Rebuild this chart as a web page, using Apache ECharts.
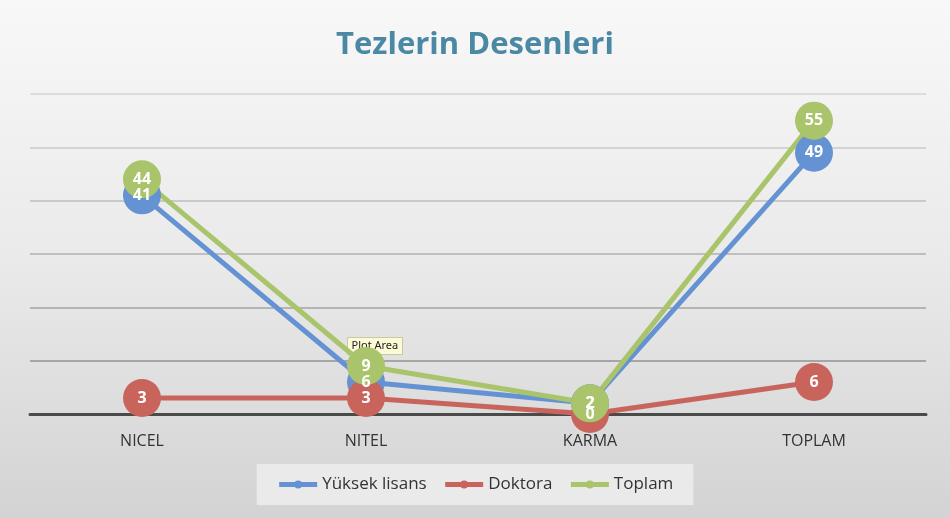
<!DOCTYPE html>
<html>
<head>
<meta charset="utf-8">
<script src="https://cdn.jsdelivr.net/npm/echarts@6/dist/echarts.min.js"></script>
<style>
  html, body { margin: 0; padding: 0; }
  #chart { width: 950px; height: 518px; }
</style>
</head>
<body>
<div id="chart"></div>
<script>
const categories = ["NICEL", "NITEL", "KARMA", "TOPLAM"]
const yuksekLisans = [41, 6, 2, 49]
const doktora = [3, 3, 0, 6]
const toplam = [44, 9, 2, 55]

const font = "'Open Sans', 'Noto Sans', sans-serif"

function lineSeries(name, data, color) {
	return {
		name: name,
		type: "line",
		data: data,
		symbol: "circle",
		symbolSize: 38,
		lineStyle: { width: 5, color: color },
		itemStyle: { color: color },
		label: {
			show: true,
			position: "inside",
			color: "#fff",
			fontWeight: "bold",
			fontSize: 16,
			fontFamily: font
		}
	}
}

const chart = echarts.init(document.querySelector("#chart"))
chart.setOption({
	animation: false,
	backgroundColor: {
		type: "linear", x: 0, y: 0, x2: 0, y2: 1,
		colorStops: [
			{ offset: 0, color: "#f8f8f8" },
			{ offset: 0.5, color: "#eaeaea" },
			{ offset: 1, color: "#d3d3d3" }
		]
	},
	title: {
		text: "Tezlerin Desenleri",
		left: "center",
		top: 25,
		textStyle: {
			color: "#4a88a3",
			fontSize: 31,
			fontWeight: "bold",
			fontFamily: font
		}
	},
	legend: {
		bottom: 13,
		left: "center",
		padding: [12, 20, 12, 20],
		backgroundColor: "rgba(240,240,240,0.75)",
		itemWidth: 38,
		itemHeight: 10,
		itemGap: 16,
		lineStyle: { width: 5 },
		textStyle: { color: "#333", fontSize: 17, fontFamily: font }
	},
	grid: { left: 30, right: 24, top: 94, bottom: 104 },
	xAxis: {
		type: "category",
		data: categories,
		axisTick: { show: false },
		axisLine: { lineStyle: { color: "#4a4a4a", width: 3 } },
		axisLabel: { color: "#333", fontSize: 16, margin: 19, fontFamily: font }
	},
	yAxis: {
		type: "value",
		min: 0,
		max: 60,
		interval: 10,
		axisLabel: { show: false },
		axisLine: { show: false },
		splitLine: {
			lineStyle: {
				width: 2,
				color: ["#4a4a4a", "#a6a6a6", "#b4b4b4", "#bfbfbf", "#c9c9c9", "#d3d3d3", "#dcdcdc"]
			}
		}
	},
	series: [
		lineSeries("Yüksek lisans", yuksekLisans, "#6592d2"),
		lineSeries("Doktora", doktora, "#c9645d"),
		lineSeries("Toplam", toplam, "#a9c46b")
	],
	graphic: [{
		type: "group",
		left: 347,
		top: 337,
		z: 100,
		children: [
			{ type: "rect", shape: { x: 0, y: 0, width: 55, height: 17 }, style: { fill: "#fdfbd6", stroke: "#c8c8a8", lineWidth: 1 } },
			{ type: "text", style: { x: 4, y: 3, text: "Plot Area", fill: "#222", font: "11px 'Noto Sans', sans-serif" } }
		]
	}]
})
</script>
</body>
</html>
